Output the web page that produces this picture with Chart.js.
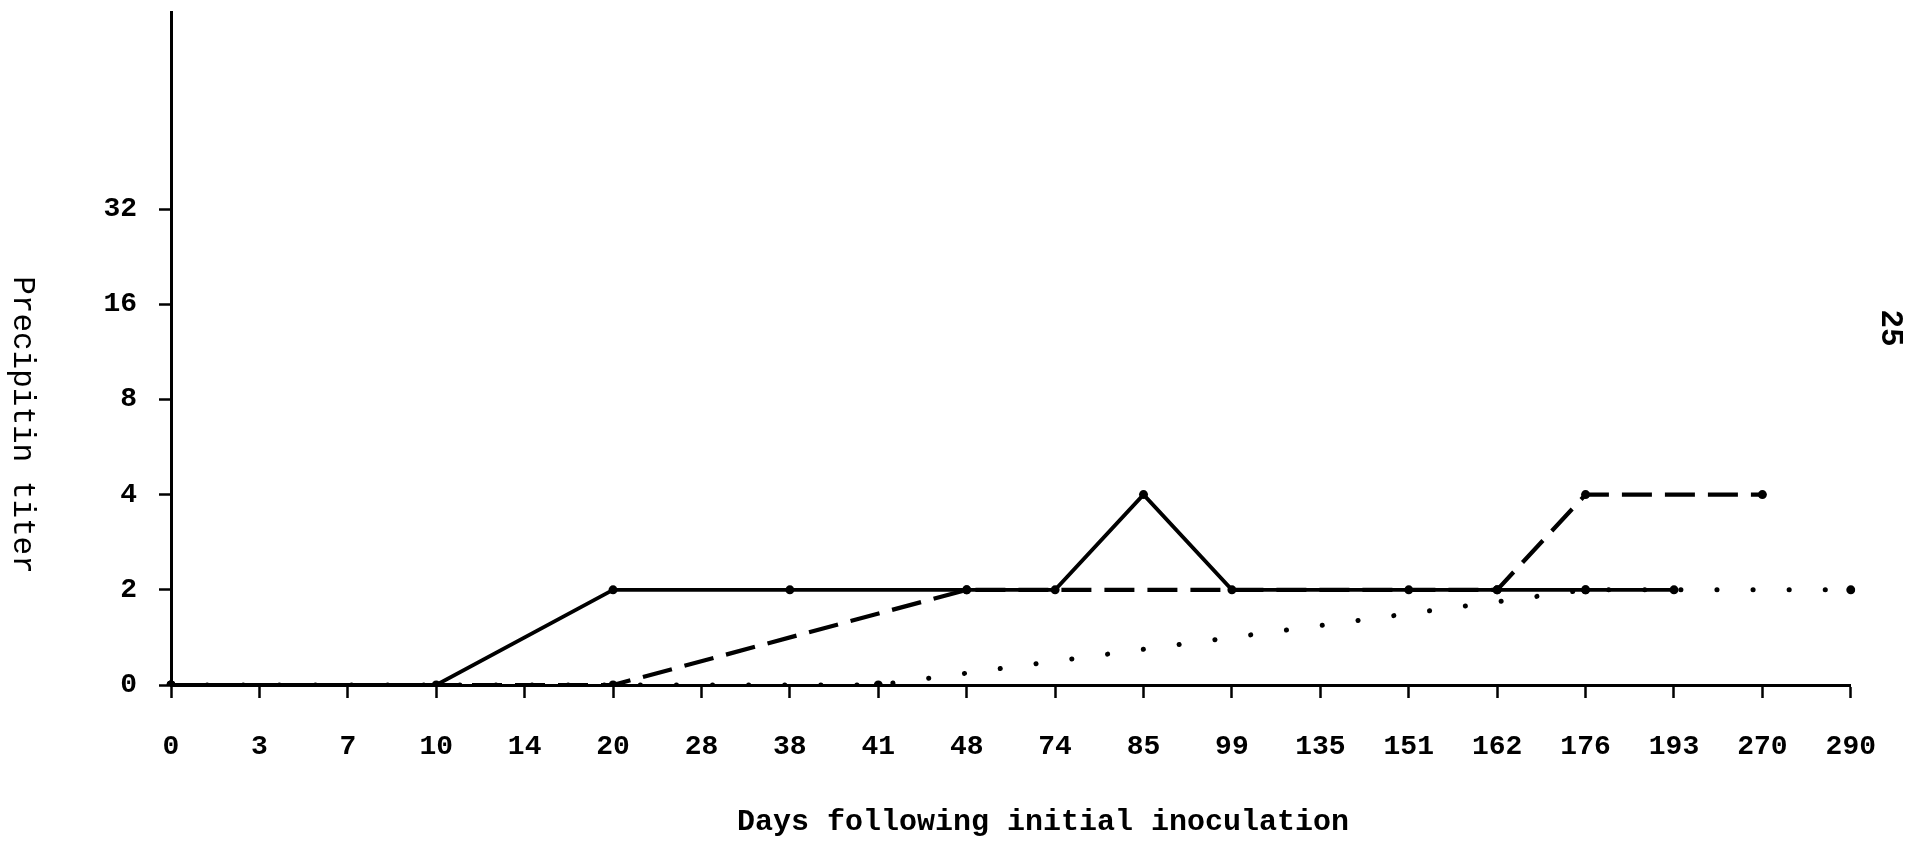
<!DOCTYPE html>
<html>
<head>
<meta charset="utf-8">
<title>Precipitin titer</title>
<script src="https://cdn.jsdelivr.net/npm/chart.js@4.4.1/dist/chart.umd.min.js"></script>
<style>
  html, body { margin:0; padding:0; background:#fff; }
  canvas { display:block; }
</style>
</head>
<body>
<canvas id="titerChart" width="1908" height="841"></canvas>
<script>
// ================= DATA ==================
const days = ["0","3","7","10","14","20","28","38","41","48","74","85","99","135","151","162","176","193","270","290"];
const titerTicks = [0, 2, 4, 8, 16, 32];

// null = no reading drawn at that day (line just passes through)
const solidTiter  = [0,null,null,0,null,2,null,2,null,2,2,4,2,null,2,2,2,2,null,null];
const dashedTiter = [0,null,null,null,null,0,null,null,null,2,null,null,null,null,null,2,4,null,4,null];
const dottedTiter = [0,null,null,null,null,null,null,null,0,null,null,null,null,null,null,null,2,null,null,2];

const xTitle = "Days following initial inoculation";
const yTitle = "Precipitin titer";
const pageNo = "25";

// titer values sit on evenly spaced steps (0,2,4,8,16,32)
function toStep(arr){
  return arr.map(v => v === null ? null : titerTicks.indexOf(v));
}

const FONT = "Liberation Mono";

// ================= EXTRA TEXT ==================
const pageText = {
  id: "pageText",
  afterDraw(chart){
    const ctx = chart.ctx;
    ctx.save();
    ctx.fillStyle = "#000";
    ctx.textAlign = "center";
    ctx.textBaseline = "middle";

    ctx.font = "bold 30px '" + FONT + "'";
    ctx.fillText(xTitle, 1043, 822);

    // axis title reads top to bottom
    ctx.save();
    ctx.translate(22, 425);
    ctx.rotate(Math.PI/2);
    ctx.font = "31px '" + FONT + "'";
    ctx.fillText(yTitle, 0, 0);
    ctx.restore();

    ctx.save();
    ctx.translate(1890, 328);
    ctx.rotate(Math.PI/2);
    ctx.font = "bold 31px '" + FONT + "'";
    ctx.fillText(pageNo, 0, 0);
    ctx.restore();

    ctx.restore();
  }
};

// ================= CHART ==================
function lineSet(label, arr, dash, width, cap){
  return {
    label,
    data: toStep(arr),
    borderColor: "#000",
    backgroundColor: "#000",
    borderWidth: width,
    borderDash: dash,
    borderCapStyle: cap,
    pointRadius: 4.5,
    pointBackgroundColor: "#000",
    pointBorderWidth: 0,
    spanGaps: true,
    tension: 0
  };
}

const ctx = document.getElementById("titerChart");

let titerChart = new Chart(ctx, {
  type: "line",
  data: {
    labels: days,
    datasets: [
      lineSet("solid", solidTiter, [], 3.8, "butt"),
      lineSet("dashed", dashedTiter, [30, 13], 4.2, "butt"),
      lineSet("dotted", dottedTiter, [0.1, 36], 5, "round")
    ]
  },
  options: {
    responsive: false,
    animation: false,
    layout: { padding: { top: 12, right: 41, left: 0, bottom: 0 } },
    plugins: {
      legend: { display: false },
      tooltip: { enabled: false }
    },
    scales: {
      x: {
        type: "category",
        offset: false,
        border: { display: true, color: "#000", width: 3 },
        grid: {
          drawOnChartArea: false,
          drawTicks: true,
          tickLength: 13,
          tickWidth: 2.5,
          tickColor: "#000"
        },
        ticks: {
          color: "#000",
          font: { family: FONT, size: 28, weight: "bold" },
          padding: 32,
          maxRotation: 0,
          autoSkip: false
        },
        afterFit(scale){ scale.height = 156; }
      },
      y: {
        type: "linear",
        min: 0,
        max: 7.07,
        border: { display: true, color: "#000", width: 3 },
        grid: {
          drawOnChartArea: false,
          drawTicks: true,
          tickLength: 12,
          tickWidth: 2.5,
          tickColor: "#000"
        },
        ticks: {
          stepSize: 1,
          color: "#000",
          font: { family: FONT, size: 28, weight: "bold" },
          padding: 22,
          callback: (v) => {
            let t = titerTicks[v];
            return t === undefined ? null : String(t);
          }
        },
        afterFit(scale){
          scale.width = 171;
          // axis line runs right up to the top, no room kept for labels
          scale.paddingTop = 0;
          scale.paddingBottom = 0;
        }
      }
    }
  },
  plugins: [pageText]
});
</script>
</body>
</html>
